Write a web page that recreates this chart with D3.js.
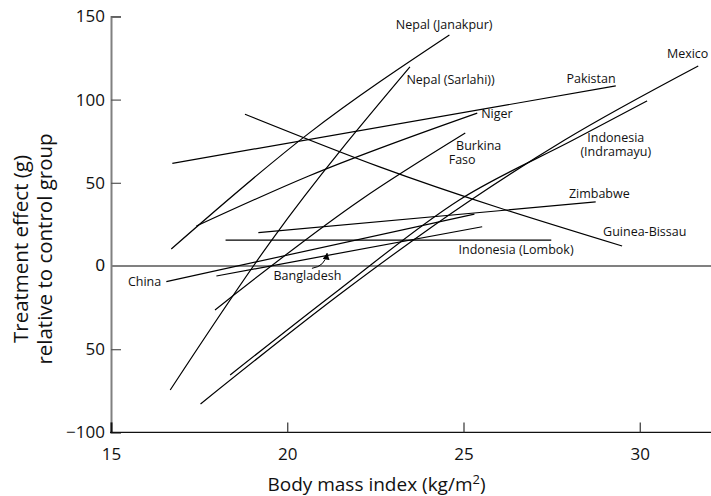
<!DOCTYPE html>
<html>
<head>
<meta charset="utf-8">
<script src="https://cdn.jsdelivr.net/npm/d3@7"></script>
<style>
  body { margin: 0; background: #fff; }
  svg { display: block; font-family: "Open Sans", sans-serif; }
</style>
</head>
<body>
<div id="chart"></div>
<script>
// countries, one line each (BMI, treatment effect in g)
var countries = ["Nepal (Janakpur)", "Nepal (Sarlahi))", "Pakistan", "Niger", "Burkina Faso",
  "Mexico", "Indonesia (Indramayu)", "Guinea-Bissau", "Zimbabwe", "Indonesia (Lombok)",
  "China", "Bangladesh"];

var bmiValues = [
  [16.71, 20.61, 24.60],
  [16.68, 19.56, 23.48],
  [16.74, 29.32],
  [17.42, 20.61, 25.39],
  [17.95, 22.08, 25.05],
  [17.54, 21.65, 25.21, 27.87, 31.66],
  [18.38, 21.46, 24.88, 28.11, 30.21],
  [18.80, 22.60, 29.50],
  [19.18, 28.75],
  [18.25, 27.49],
  [16.57, 25.31],
  [17.99, 25.53]
];

var effectValues = [
  [10.2, 79.7, 138.8],
  [-74.5, 15.6, 119.6],
  [61.7, 108.2],
  [24.0, 54.1, 91.9],
  [-26.4, 39.7, 79.9],
  [-82.9, -14.4, 39.7, 75.7, 120.2],
  [-65.5, -14.4, 39.7, 75.7, 99.2],
  [91.2, 59.7, 12.0],
  [20.0, 38.5],
  [15.6, 15.6],
  [-9.4, 31.2],
  [-6.0, 23.6]
];

// labels: text lines, where each line starts (bmi) and first line height (effect)
var labelLines = [["Nepal (Janakpur)"], ["Nepal (Sarlahi))"], ["Pakistan"], ["Mexico"], ["Niger"],
  ["Burkina", "Faso"], ["Indonesia", "(Indramayu)"], ["Zimbabwe"], ["Guinea-Bissau"],
  ["Indonesia (Lombok)"], ["Bangladesh"], ["China"]];
var labelBmi = [[23.08], [23.38], [27.92], [30.77], [25.50], [24.79, 24.58], [29.32, 29.32],
  [27.99], [28.96], [24.86], [19.61], [15.48]];
var labelEffect = [144.8, 111.8, 112.4, 127.4, 91.3, 72.3, 77.3, 43.7, 20.6, 9.6, -6.0, -9.4];
var labelAnchor = ["start", "start", "start", "start", "start", "start", "middle",
  "start", "start", "start", "start", "start"];

// arrow from "Bangladesh" label to its line
var arrowBmi = [20.70, 21.13];
var arrowEffect = [-1.4, 7.6];

var xTicks = [15, 20, 25, 30];
var yTicks = [-100, -50, 50, 100, 150];
var yTickLabels = ["\u2212100", "50", "50", "100", "150"];

var width = 711, height = 496;

var x = d3.scaleLinear().domain([15, 32]).range([111, 710.25]);
var y = d3.scaleLinear().domain([-100, 150]).range([432.4, 16.4]);

var svg = d3.select("#chart").append("svg")
  .attr("width", width)
  .attr("height", height);

// y axis (grey, ticks pointing in)
var yAxis = svg.append("g")
  .attr("transform", "translate(" + x(15) + ",0)")
  .call(d3.axisLeft(y)
    .tickValues(yTicks)
    .tickFormat(function(d, i) { return yTickLabels[i]; })
    .tickSize(-10)
    .tickPadding(6));
yAxis.select(".domain").attr("stroke", "#808080").attr("stroke-width", 2);
yAxis.selectAll(".tick line").attr("stroke", "#555").attr("stroke-width", 1.2);
yAxis.selectAll(".tick text")
  .style("font-size", "17px")
  .style("fill", "#111")
  .style("font-family", "Open Sans, sans-serif");
yAxis.selectAll(".tick").filter(function(d) { return d === -100; }).select("line").remove();
// 0 label sits on the zero line
yAxis.append("text")
  .attr("x", -6)
  .attr("y", y(0))
  .attr("dy", "0.32em")
  .attr("text-anchor", "end")
  .style("font-size", "17px")
  .style("fill", "#111")
  .text("0");

// zero line
svg.append("line")
  .attr("x1", x(15))
  .attr("x2", width)
  .attr("y1", y(0))
  .attr("y2", y(0))
  .attr("stroke", "#808080")
  .attr("stroke-width", 1.8);

// x axis (black, ticks pointing up)
var xAxis = svg.append("g")
  .attr("transform", "translate(0," + y(-100) + ")")
  .call(d3.axisBottom(x)
    .tickValues(xTicks)
    .tickFormat(d3.format("d"))
    .tickSize(-10)
    .tickPadding(16)
    .tickSizeOuter(0));
xAxis.select(".domain").attr("stroke", "#111").attr("stroke-width", 1.4)
  .attr("d", "M" + (x(15) - 1) + ",0H" + width);
xAxis.selectAll(".tick line").attr("stroke", "#333").attr("stroke-width", 1.2);
xAxis.selectAll(".tick").filter(function(d) { return d === 15; }).select("line")
  .attr("stroke", "#111").attr("stroke-width", 2);
xAxis.selectAll(".tick text")
  .style("font-size", "17px")
  .style("fill", "#111")
  .style("font-family", "Open Sans, sans-serif");

// lines
var line = d3.line()
  .x(function(d) { return x(d[0]); })
  .y(function(d) { return y(d[1]); })
  .curve(d3.curveMonotoneX);

var lineData = countries.map(function(c, i) {
  return { name: c, points: bmiValues[i].map(function(b, j) { return [b, effectValues[i][j]]; }) };
});

svg.selectAll(".country")
  .data(lineData)
  .enter().append("path")
  .attr("class", "country")
  .attr("d", function(d) { return line(d.points); })
  .attr("fill", "none")
  .attr("stroke", "#000")
  .attr("stroke-width", 1.2);

// labels (multi-line ones as tspans)
var labels = svg.selectAll(".lab")
  .data(labelLines)
  .enter().append("text")
  .attr("class", "lab")
  .attr("y", function(d, i) { return y(labelEffect[i]); })
  .attr("text-anchor", function(d, i) { return labelAnchor[i]; })
  .style("font-size", "12.5px")
  .style("fill", "#111");

labels.each(function(d, i) {
  var t = d3.select(this);
  d.forEach(function(s, j) {
    t.append("tspan")
      .attr("x", x(labelBmi[i][j]))
      .attr("dy", j === 0 ? "0.35em" : 14)
      .text(s);
  });
});

// Bangladesh arrow
svg.append("defs").append("marker")
  .attr("id", "arrowhead")
  .attr("viewBox", "0 0 10 10")
  .attr("refX", 9)
  .attr("refY", 5)
  .attr("markerWidth", 7)
  .attr("markerHeight", 7)
  .attr("markerUnits", "userSpaceOnUse")
  .attr("orient", "auto")
  .append("path")
  .attr("d", "M0,0L10,5L0,10z")
  .attr("fill", "#000");

var ax0 = x(arrowBmi[0]), ay0 = y(arrowEffect[0]),
  ax1 = x(arrowBmi[1]), ay1 = y(arrowEffect[1]);
svg.append("path")
  .attr("d", "M" + ax0 + "," + ay0 + "Q" + (ax1 - 2) + "," + (ay0 - 2) + " " + ax1 + "," + ay1)
  .attr("fill", "none")
  .attr("stroke", "#000")
  .attr("stroke-width", 1)
  .attr("marker-end", "url(#arrowhead)");

// axis titles
var xTitle = svg.append("text")
  .attr("x", 376.5)
  .attr("y", 491)
  .attr("text-anchor", "middle")
  .style("font-size", "19px")
  .style("fill", "#111");
xTitle.append("tspan").text("Body mass index (kg/m");
xTitle.append("tspan").attr("dy", -7).style("font-size", "13px").text("2");
xTitle.append("tspan").attr("dy", 7).text(")");

var yTitle = svg.append("g")
  .attr("transform", "translate(28,249) rotate(-90)")
  .style("font-size", "20.5px")
  .style("fill", "#111");
yTitle.append("text")
  .attr("text-anchor", "middle")
  .text("Treatment effect (g)");
yTitle.append("text")
  .attr("y", 24)
  .attr("text-anchor", "middle")
  .text("relative to control group");
</script>
</body>
</html>
